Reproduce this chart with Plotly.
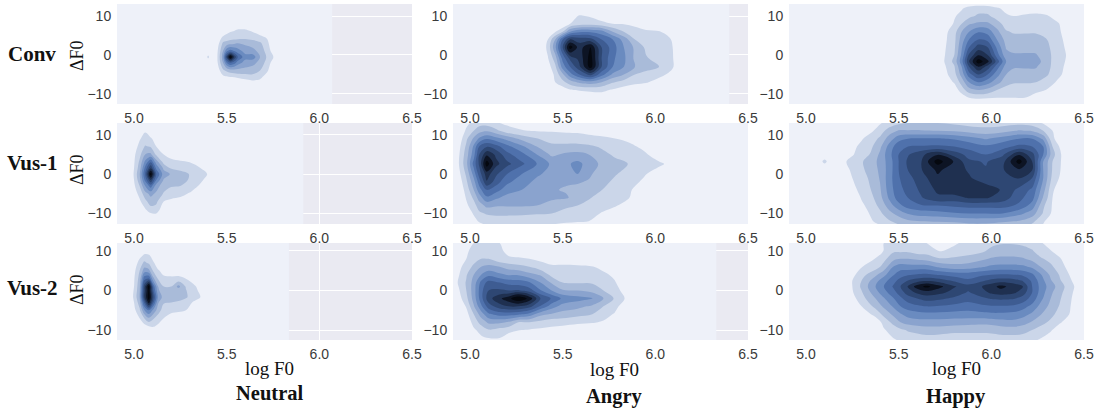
import plotly.graph_objects as go

# ---- axis tick labels and texts ----
x_ticks = [5.0, 5.5, 6.0, 6.5]
y_ticks = [-10, 0, 10]
row_names = ["Conv", "Vus-1", "Vus-2"]
col_names = ["Neutral", "Angry", "Happy"]
band_colors = ["#EEF1F9", "#CBD6E9", "#A9BBD9", "#8AA3CE", "#6A8BC0", "#4F71AC",
               "#3E5C92", "#2E4773", "#1F3050", "#0D1424", "#05080F"]

# ---- density grids (values are contour-band numbers) ----
conv_neutral_x = [4.9, 5.38, 5.40, 5.42, 5.45, 5.48, 5.50, 5.52, 5.54, 5.56, 5.60, 5.64, 5.68, 5.72, 5.76, 6.07]
conv_neutral_y = [-12.6, -8, -6.5, -5.5, -4, -2, -0.5, 1, 3, 4.5, 6.5, 8, 13.1]
conv_neutral_z = [
    [0]*16,
    [0]*16,
    [0, 0, 0, 0, 0, 0, 0, 0, 0, 0.3, 0.8, 1.05, 0.9, 0.2, 0, 0],
    [0, 0, 0, 0, 0, 0.8, 1.0, 1.2, 1.3, 1.5, 1.6, 1.7, 1.3, 0.6, 0, 0],
    [0, 0, 0, 0, 0.4, 1.8, 2.2, 2.5, 2.6, 2.6, 2.6, 2.5, 2.0, 1.1, 0, 0],
    [0, 0, 0, 0, 0.9, 3.0, 5.0, 6.0, 5.5, 4.5, 3.6, 3.3, 2.7, 1.5, 0.3, 0],
    [0, 0, 1.3, 0, 1.0, 3.5, 7.5, 10.6, 8.0, 6.0, 4.4, 4.6, 3.0, 1.8, 0.8, 0],
    [0, 0, 0, 0, 0.9, 3.0, 4.8, 5.5, 5.0, 4.5, 3.6, 3.3, 2.7, 1.5, 0.3, 0],
    [0, 0, 0, 0, 0.5, 2.2, 2.4, 2.6, 2.8, 3.0, 2.8, 2.6, 2.2, 1.2, 0, 0],
    [0, 0, 0, 0, 0.3, 1.2, 1.4, 1.5, 1.55, 1.6, 1.7, 1.5, 1.3, 0.9, 0, 0],
    [0, 0, 0, 0, 0, 0, 0.5, 0.8, 0.9, 1.05, 1.05, 0.8, 0.3, 0, 0, 0],
    [0]*16,
    [0]*16,
]

conv_angry_x = [4.9, 5.38, 5.42, 5.46, 5.50, 5.54, 5.59, 5.65, 5.71, 5.77, 5.83, 5.89, 5.95, 6.02, 6.08, 6.14, 6.40]
conv_angry_y = [-12.6, -11, -9, -7, -5, -3, -1, 2, 4, 6, 8, 10, 11.5, 13.1]
conv_angry_z = [
    [0]*17,
    [0, 0, 0, 0, 0, 0, 0, 0.3, 0.5, 0.2, 0, 0, 0, 0, 0, 0, 0],
    [0, 0, 0, 0, 0.4, 0.9, 1.1, 1.2, 1.2, 0.9, 0.5, 0.2, 0, 0, 0, 0, 0],
    [0, 0, 0, 1.0, 1.7, 2.5, 3.2, 3.5, 3.0, 2.1, 1.6, 1.3, 1.1, 0.6, 0, 0, 0],
    [0, 0, 0, 1.3, 2.8, 4.6, 6.0, 7.4, 5.4, 3.8, 3.0, 2.0, 1.6, 1.3, 0.8, 0, 0],
    [0, 0, 0.5, 1.8, 4.5, 6.0, 7.8, 10.5, 7.0, 5.0, 4.0, 3.0, 2.5, 2.0, 1.3, 0.3, 0],
    [0, 0, 0.9, 2.5, 5.3, 7.2, 8.3, 10.5, 7.0, 5.2, 4.2, 2.8, 2.1, 1.7, 1.3, 0.2, 0],
    [0, 0, 1.3, 3.8, 7.0, 10.5, 8.5, 10.0, 7.0, 5.5, 4.0, 2.8, 1.8, 1.5, 1.2, 0.3, 0],
    [0, 0, 1.0, 3.0, 6.0, 8.0, 7.6, 7.4, 6.0, 5.0, 3.6, 2.0, 1.6, 1.4, 1.1, 0, 0],
    [0, 0, 0, 0.9, 2.0, 4.0, 4.8, 4.8, 4.4, 3.0, 2.0, 1.5, 1.2, 1.1, 0.3, 0, 0],
    [0, 0, 0, 0, 0, 1.0, 1.5, 1.6, 1.4, 1.0, 0.95, 0.7, 0.3, 0, 0, 0, 0],
    [0, 0, 0, 0, 0, 0.5, 1.1, 0.9, 0.3, 0, 0, 0, 0, 0, 0, 0, 0],
    [0, 0, 0, 0, 0, 0, 0.3, 0.2, 0, 0, 0, 0, 0, 0, 0, 0, 0],
    [0]*17,
]

conv_happy_x = [4.9, 5.7, 5.76, 5.80, 5.84, 5.88, 5.93, 5.98, 6.03, 6.08, 6.12, 6.18, 6.24, 6.30, 6.36, 6.42, 6.6]
conv_happy_y = [-12.6, -11, -9, -7, -5, -3, -1.7, 0, 2, 4, 6, 8, 10, 12, 14]
conv_happy_z = [
    [0]*17,
    [0, 0, 0, 0, 0.4, 1.0, 1.2, 1.1, 1.0, 1.0, 1.0, 1.0, 0.5, 0, 0, 0, 0],
    [0, 0, 0, 0.4, 1.5, 2.6, 3.0, 2.7, 2.0, 1.6, 1.5, 1.4, 1.3, 0.95, 0.2, 0, 0],
    [0, 0, 0.5, 1.1, 2.4, 4.0, 5.0, 4.4, 3.4, 2.4, 2.1, 2.1, 2.0, 1.6, 0.8, 0, 0],
    [0, 0, 0.9, 1.6, 3.4, 5.6, 7.0, 6.0, 4.4, 3.0, 2.7, 2.7, 2.6, 2.1, 1.3, 0.4, 0],
    [0, 0, 1.1, 1.9, 4.0, 7.0, 9.0, 7.6, 5.5, 3.5, 3.1, 3.1, 3.1, 2.3, 1.4, 0.6, 0],
    [0, 0, 1.3, 2.3, 4.6, 8.0, 10.6, 9.3, 6.6, 4.0, 3.4, 3.5, 3.6, 2.3, 1.5, 0.7, 0],
    [0, 0, 1.2, 2.0, 4.2, 7.2, 8.9, 8.0, 5.5, 3.3, 3.1, 3.1, 3.1, 2.3, 1.5, 0.8, 0],
    [0, 0, 1.1, 1.8, 3.9, 6.0, 7.5, 7.0, 4.8, 2.9, 2.7, 2.7, 2.6, 2.2, 1.4, 0.7, 0],
    [0, 0, 1.0, 1.7, 3.5, 5.0, 6.0, 5.7, 4.0, 2.6, 2.3, 2.3, 2.3, 2.0, 1.3, 0.6, 0],
    [0, 0, 0.9, 1.6, 3.0, 4.0, 4.9, 4.6, 3.3, 2.1, 1.9, 1.9, 1.9, 1.6, 1.2, 0.4, 0],
    [0, 0, 0.5, 1.1, 2.0, 2.9, 3.2, 3.2, 2.5, 1.5, 1.3, 1.4, 1.4, 1.3, 1.1, 0.2, 0],
    [0, 0, 0, 0.9, 1.3, 1.7, 2.2, 2.2, 1.5, 1.1, 1.0, 1.1, 1.2, 1.1, 0.5, 0, 0],
    [0, 0, 0, 0, 0.9, 1.3, 1.5, 1.4, 1.1, 0.8, 0.6, 0.6, 0.6, 0.4, 0, 0, 0],
    [0]*17,
]

vus1_neutral_x = [4.9, 4.97, 5.0, 5.03, 5.06, 5.09, 5.12, 5.16, 5.2, 5.25, 5.3, 5.36, 5.42, 5.915]
vus1_neutral_y = [-12.7, -11, -9, -7, -5, -3, -1.5, 0, 1.5, 3, 5, 7, 9, 11, 13]
vus1_neutral_z = [
    [0]*14,
    [0, 0, 0, 0, 0, 0.3, 0.4, 0, 0, 0, 0, 0, 0, 0],
    [0, 0, 0, 0.2, 0.9, 1.6, 1.6, 0.3, 0, 0, 0, 0, 0, 0],
    [0, 0, 0, 0.8, 1.7, 2.5, 2.2, 1.0, 0.8, 0.6, 0.2, 0, 0, 0],
    [0, 0, 0.5, 1.3, 2.6, 3.3, 2.8, 1.9, 1.4, 1.3, 0.9, 0.1, 0, 0],
    [0, 0, 0.8, 2.0, 4.0, 5.5, 3.5, 2.4, 2.1, 2.0, 1.6, 0.8, 0, 0],
    [0, 0, 1.0, 2.6, 5.3, 8.0, 5.0, 2.9, 2.2, 2.2, 1.95, 1.2, 0.3, 0],
    [0, 0, 1.1, 2.9, 6.0, 10.6, 6.0, 3.5, 2.9, 2.5, 1.95, 1.4, 0.7, 0],
    [0, 0, 1.0, 2.5, 5.3, 8.0, 4.8, 2.8, 1.9, 1.6, 1.4, 1.0, 0.3, 0],
    [0, 0, 0.9, 2.2, 4.3, 6.0, 3.6, 1.7, 1.4, 1.2, 1.0, 0.5, 0, 0],
    [0, 0, 0.8, 1.7, 3.0, 3.2, 1.8, 1.0, 0.5, 0.2, 0, 0, 0, 0],
    [0, 0, 0.5, 1.3, 2.1, 1.9, 1.0, 0.2, 0, 0, 0, 0, 0, 0],
    [0, 0, 0.3, 0.9, 1.4, 1.1, 0.7, 0, 0, 0, 0, 0, 0, 0],
    [0, 0, 0, 0.5, 0.9, 0.5, 0, 0, 0, 0, 0, 0, 0, 0],
    [0]*14,
]

vus1_angry_x = [4.9, 4.94, 4.98, 5.02, 5.05, 5.09, 5.14, 5.2, 5.28, 5.36, 5.44, 5.52, 5.58, 5.64, 5.7, 5.78, 5.86, 5.94, 6.02, 6.1, 6.6]
vus1_angry_y = [-14, -12, -10, -8, -6, -4, -2, 0, 2.6, 5, 7, 9, 11, 13, 15]
vus1_angry_z = [
    [0, 0, 0, 0, 0.3, 0.6, 0.8, 0.8, 0.8, 0.7, 0.7, 0.6, 0.5, 0.3, 0, 0, 0, 0, 0, 0, 0],
    [0, 0, 0, 0.7, 1.1, 1.4, 1.5, 1.5, 1.4, 1.3, 1.2, 1.1, 1.05, 1.0, 0.9, 0.2, 0, 0, 0, 0, 0],
    [0, 0, 0.4, 1.1, 1.8, 2.1, 2.2, 2.2, 2.2, 2.1, 2.0, 1.6, 1.4, 1.2, 1.0, 0.6, 0.1, 0, 0, 0, 0],
    [0, 0, 0.8, 1.6, 2.5, 3.3, 3.1, 3.1, 3.1, 3.0, 2.6, 2.2, 2.0, 1.7, 1.4, 1.1, 0.6, 0, 0, 0, 0],
    [0, 0, 1.1, 2.2, 3.5, 4.8, 4.2, 3.6, 3.3, 3.1, 3.2, 3.1, 2.6, 2.1, 1.7, 1.3, 1.0, 0.3, 0, 0, 0],
    [0, 0.2, 1.4, 3.0, 4.6, 6.0, 5.4, 4.5, 4.0, 3.4, 3.1, 2.9, 2.7, 2.5, 2.1, 1.5, 1.1, 0.5, 0, 0, 0],
    [0, 0.4, 1.8, 3.6, 5.5, 7.9, 6.5, 5.2, 4.5, 3.7, 3.3, 3.1, 3.1, 2.9, 2.4, 1.8, 1.4, 0.8, 0.2, 0, 0],
    [0, 0.7, 2.2, 4.4, 6.5, 8.5, 7.2, 6.0, 5.0, 4.2, 3.6, 3.6, 4.0, 3.2, 2.6, 2.1, 1.6, 1.1, 0.5, 0, 0],
    [0, 1.0, 2.7, 5.4, 7.2, 10.6, 8.3, 7.3, 6.2, 5.0, 3.8, 3.8, 4.3, 3.6, 2.9, 2.4, 1.95, 1.5, 1.2, 0.6, 0],
    [0, 0.9, 2.5, 4.6, 7.0, 8.8, 7.8, 6.3, 5.3, 4.0, 2.8, 3.2, 3.3, 3.0, 2.5, 1.8, 1.5, 1.2, 0.4, 0, 0],
    [0, 0.7, 2.2, 4.2, 6.1, 6.9, 6.4, 5.3, 4.2, 3.0, 2.2, 2.3, 2.3, 2.2, 1.9, 1.5, 1.3, 0.7, 0.2, 0, 0],
    [0, 0.4, 1.8, 3.2, 4.2, 4.9, 4.4, 3.7, 2.7, 2.05, 1.7, 1.5, 1.5, 1.3, 1.2, 1.02, 0.7, 0.1, 0, 0, 0],
    [0, 0, 1.2, 2.0, 2.6, 2.9, 2.3, 1.4, 1.05, 0.95, 0.9, 0.85, 0.8, 0.7, 0.6, 0.3, 0, 0, 0, 0, 0],
    [0, 0, 0.7, 1.3, 1.6, 1.5, 1.1, 0.8, 0.7, 0.6, 0.5, 0.4, 0.3, 0.2, 0, 0, 0, 0, 0, 0, 0],
    [0, 0, 0, 0.5, 0.7, 0.7, 0.3, 0, 0, 0, 0, 0, 0, 0, 0, 0, 0, 0, 0, 0, 0],
]

vus1_happy_x = [4.9, 5.05, 5.1, 5.15, 5.2, 5.25, 5.3, 5.35, 5.4, 5.45, 5.5, 5.55, 5.62, 5.71, 5.8, 5.88, 5.97, 6.06, 6.15, 6.22, 6.28, 6.33, 6.38, 6.6]
vus1_happy_y = [-14, -12, -10, -8, -6, -4, -1, 1, 3.2, 5, 7, 9, 11, 13, 15]
vus1_happy_z = [
    [0, 0, 0, 0, 0, 0, 0, 0.4, 0.7, 1.1, 1.4, 1.6, 1.7, 1.8, 1.8, 2.0, 2.0, 1.8, 1.6, 1.3, 0.8, 0.3, 0, 0],
    [0, 0, 0, 0, 0, 0, 0.3, 0.9, 1.3, 1.9, 2.4, 2.8, 3.0, 3.1, 3.2, 3.4, 3.4, 3.2, 2.9, 2.3, 1.1, 0.5, 0, 0],
    [0, 0, 0, 0, 0, 0, 0.6, 1.1, 1.8, 2.7, 3.4, 4.1, 4.5, 4.6, 4.9, 5.0, 5.0, 5.0, 4.3, 3.5, 1.9, 0.8, 0, 0],
    [0, 0, 0, 0, 0, 0, 0.8, 1.4, 2.3, 3.5, 4.7, 5.5, 5.9, 6.0, 6.2, 6.4, 6.4, 6.4, 5.8, 4.6, 2.2, 0.9, 0, 0],
    [0, 0, 0, 0, 0, 0.2, 1.1, 1.7, 2.7, 4.2, 5.5, 6.0, 6.9, 7.8, 7.7, 8.1, 8.1, 7.6, 6.3, 5.4, 2.9, 1.0, 0.1, 0],
    [0, 0, 0, 0, 0, 0.7, 1.3, 2.0, 2.9, 4.5, 5.7, 6.3, 7.2, 8.2, 8.5, 8.6, 8.5, 7.9, 6.7, 5.8, 3.4, 1.15, 0.3, 0],
    [0, 0, 0, 0, 0.2, 1.0, 1.6, 2.2, 3.1, 4.6, 5.9, 6.7, 7.5, 8.8, 8.3, 8.1, 7.5, 7.3, 8.1, 7.0, 4.0, 1.7, 0.7, 0],
    [0, 0, 0, 0, 0.6, 1.15, 1.8, 2.4, 3.2, 4.5, 6.0, 7.0, 7.9, 9.2, 8.4, 7.9, 7.1, 7.9, 8.8, 8.0, 4.0, 1.9, 0.85, 0],
    [0, 0, 1.3, 0, 0.8, 1.35, 1.9, 2.5, 3.3, 4.5, 6.0, 7.2, 7.9, 10.5, 8.9, 7.2, 6.9, 7.6, 10.5, 8.0, 4.0, 2.0, 0.9, 0],
    [0, 0, 0.2, 0, 0.3, 0.9, 1.5, 2.1, 3.2, 4.7, 6.0, 6.9, 7.7, 8.9, 7.6, 6.6, 6.0, 6.8, 8.9, 7.4, 5.0, 2.4, 0.9, 0],
    [0, 0, 0, 0, 0.1, 0.7, 1.3, 1.8, 2.8, 4.4, 5.7, 6.0, 6.1, 6.2, 6.0, 5.6, 5.2, 5.6, 6.3, 6.0, 5.0, 2.0, 0.6, 0],
    [0, 0, 0, 0, 0, 0.3, 0.9, 1.5, 2.2, 3.5, 4.6, 5.0, 5.1, 5.1, 4.9, 4.5, 3.9, 4.5, 5.0, 5.0, 3.8, 1.2, 0.3, 0],
    [0, 0, 0, 0, 0, 0, 0.4, 0.8, 1.5, 2.5, 3.1, 3.1, 3.1, 3.0, 2.9, 2.6, 2.4, 2.6, 3.1, 2.9, 2.0, 1.0, 0.2, 0],
    [0, 0, 0, 0, 0, 0, 0, 0.2, 0.9, 1.4, 1.8, 2.0, 2.0, 2.0, 1.8, 1.6, 1.5, 1.6, 1.7, 1.5, 0.9, 0.4, 0, 0],
    [0, 0, 0, 0, 0, 0, 0, 0, 0.4, 0.7, 0.9, 0.9, 0.9, 0.9, 0.9, 0.9, 0.9, 0.9, 0.9, 0.7, 0.3, 0, 0, 0],
]

vus2_neutral_x = [4.9, 4.97, 5.0, 5.03, 5.055, 5.08, 5.105, 5.13, 5.16, 5.2, 5.24, 5.28, 5.33, 5.38, 5.836]
vus2_neutral_y = [-12.5, -11, -9, -7, -5, -3, -1.7, 0, 1, 3, 5, 7, 9, 11, 12.2]
vus2_neutral_z = [
    [0]*15,
    [0]*15,
    [0, 0, 0, 0.1, 0.6, 1.0, 1.1, 0.8, 0, 0, 0, 0, 0, 0, 0],
    [0, 0, 0.2, 1.0, 2.0, 2.9, 2.1, 1.5, 1.0, 0.5, 0.3, 0.1, 0, 0, 0],
    [0, 0, 0.7, 1.8, 3.9, 5.0, 3.7, 2.5, 1.5, 1.3, 1.2, 1.0, 0.2, 0, 0],
    [0, 0, 1.0, 2.5, 6.2, 9.5, 6.0, 3.1, 2.1, 2.0, 1.9, 1.6, 0.7, 0, 0],
    [0, 0, 1.2, 3.0, 7.8, 10.6, 7.0, 3.8, 2.6, 2.4, 2.3, 2.1, 1.5, 0.6, 0],
    [0, 0, 1.1, 2.8, 7.6, 10.3, 6.0, 3.2, 2.2, 2.4, 2.5, 2.05, 1.3, 0.2, 0],
    [0, 0, 1.0, 2.7, 7.5, 10.6, 5.5, 3.0, 2.0, 2.0, 3.3, 1.9, 1.1, 0, 0],
    [0, 0, 0.9, 2.4, 5.6, 6.0, 3.2, 1.9, 1.2, 1.2, 1.3, 1.0, 0.3, 0, 0],
    [0, 0, 0.7, 2.0, 3.5, 3.3, 1.8, 1.1, 0.7, 0.5, 0.4, 0, 0, 0, 0],
    [0, 0, 0.3, 1.4, 2.2, 1.8, 1.1, 0.4, 0, 0, 0, 0, 0, 0, 0],
    [0, 0, 0, 0.6, 1.1, 1.05, 0.4, 0, 0, 0, 0, 0, 0, 0, 0],
    [0]*15,
    [0]*15,
]

vus2_angry_x = [4.9, 4.94, 4.98, 5.02, 5.06, 5.1, 5.16, 5.21, 5.26, 5.32, 5.38, 5.44, 5.5, 5.58, 5.66, 5.72, 5.78, 5.84, 6.33]
vus2_angry_y = [-14, -12, -10, -8, -6, -4, -2, 0, 2, 4, 6, 8, 10, 12, 14]
vus2_angry_z = [
    [0]*19,
    [0, 0, 0, 0.3, 0.8, 1.0, 1.0, 0.5, 0.1, 0, 0, 0, 0, 0, 0, 0, 0, 0, 0],
    [0, 0, 0, 0.8, 1.4, 1.9, 1.6, 1.3, 1.05, 0.9, 0.8, 0.7, 0.5, 0.3, 0.1, 0, 0, 0, 0],
    [0, 0, 0.2, 1.4, 2.4, 3.2, 3.2, 2.9, 2.0, 2.0, 1.7, 1.4, 1.4, 1.2, 1.1, 0.9, 0.2, 0, 0],
    [0, 0, 0.6, 2.0, 3.5, 4.8, 5.4, 5.4, 5.2, 4.6, 3.3, 2.9, 2.6, 2.3, 2.0, 1.4, 0.9, 0, 0],
    [0, 0.2, 1.1, 2.9, 4.8, 6.5, 7.6, 8.0, 8.0, 7.4, 5.9, 4.5, 3.6, 3.3, 2.8, 2.0, 1.4, 0.3, 0],
    [0, 0.6, 1.7, 3.4, 5.6, 7.6, 8.8, 9.7, 11.0, 9.7, 7.0, 5.9, 4.8, 4.4, 4.1, 3.0, 1.9, 0.9, 0],
    [0, 0.9, 2.0, 3.5, 5.7, 7.0, 7.2, 7.0, 7.1, 6.5, 5.1, 4.0, 3.1, 3.0, 2.6, 2.0, 1.4, 0.6, 0],
    [0, 1.2, 2.1, 3.4, 5.3, 6.4, 6.0, 5.6, 5.5, 5.1, 4.0, 2.9, 2.0, 1.9, 1.9, 1.4, 1.1, 0.3, 0],
    [0, 0.95, 1.9, 3.0, 4.0, 4.7, 4.2, 3.9, 3.9, 3.3, 2.9, 1.7, 1.4, 1.4, 1.4, 1.2, 0.8, 0, 0],
    [0, 0.7, 1.5, 2.2, 3.0, 3.3, 3.0, 2.5, 2.3, 2.0, 1.4, 1.1, 1.1, 1.1, 1.05, 0.7, 0, 0, 0],
    [0, 0.3, 1.0, 1.6, 2.0, 2.0, 1.2, 1.15, 1.1, 1.0, 0.8, 0.7, 0.7, 0.6, 0.3, 0, 0, 0, 0],
    [0, 0, 0.8, 1.4, 1.7, 1.7, 1.2, 0.7, 0.6, 0.6, 0.5, 0.3, 0, 0, 0, 0, 0, 0, 0],
    [0, 0, 0.4, 1.0, 1.4, 1.4, 1.0, 0.3, 0, 0, 0, 0, 0, 0, 0, 0, 0, 0, 0],
    [0, 0, 0, 0.2, 0.6, 0.7, 0.3, 0, 0, 0, 0, 0, 0, 0, 0, 0, 0, 0, 0],
]

vus2_happy_x = [4.9, 5.2, 5.25, 5.3, 5.375, 5.42, 5.47, 5.51, 5.55, 5.6, 5.65, 5.72, 5.8, 5.875, 5.95, 6.0, 6.05, 6.12, 6.17, 6.22, 6.27, 6.32, 6.37, 6.42, 6.48, 6.6]
vus2_happy_y = [-14, -12, -10, -8, -6, -4, -2, -0.5, 1, 2.5, 4, 6, 8, 10, 12, 14]
vus2_happy_z = [
    [0, 0, 0, 0, 0, 0, 0.4, 0.6, 0.7, 0.8, 0.8, 0.8, 0.7, 0.7, 0.7, 0.8, 0.8, 0.8, 0.7, 0.6, 0.3, 0, 0, 0, 0, 0],
    [0, 0, 0, 0, 0, 0.5, 1.0, 1.3, 1.5, 1.6, 1.7, 1.6, 1.5, 1.5, 1.5, 1.6, 1.7, 1.7, 1.6, 1.4, 1.0, 0.6, 0.1, 0, 0, 0],
    [0, 0, 0, 0, 0, 0.9, 1.4, 1.8, 2.1, 2.3, 2.5, 2.5, 2.3, 2.3, 2.3, 2.3, 2.4, 2.5, 2.4, 2.0, 1.6, 1.1, 0.5, 0.1, 0, 0],
    [0, 0, 0, 0, 0.4, 1.3, 2.3, 3.0, 3.4, 3.6, 3.6, 3.6, 3.5, 3.4, 3.3, 3.4, 3.6, 3.7, 3.4, 2.9, 2.3, 1.8, 1.1, 0.6, 0, 0],
    [0, 0, 0, 0.4, 1.3, 2.3, 3.2, 3.9, 4.4, 4.6, 4.7, 4.7, 4.6, 4.6, 4.7, 4.8, 4.8, 4.7, 4.4, 3.8, 3.0, 2.3, 1.6, 1.0, 0.1, 0],
    [0, 0, 0.1, 1.0, 2.3, 3.2, 4.1, 5.0, 5.5, 5.8, 6.0, 5.9, 5.7, 5.5, 5.8, 5.9, 5.9, 5.8, 5.4, 4.7, 3.6, 2.7, 1.9, 1.1, 0.3, 0],
    [0, 0, 0.6, 1.6, 3.0, 3.9, 4.9, 5.8, 6.5, 7.0, 7.4, 7.2, 6.8, 6.4, 6.8, 7.1, 7.2, 7.1, 6.6, 5.6, 4.2, 3.0, 2.1, 1.2, 0.3, 0],
    [0, 0, 0.9, 1.9, 3.6, 4.6, 5.6, 6.5, 7.5, 8.2, 8.6, 8.3, 7.6, 6.9, 7.6, 8.2, 8.5, 8.2, 7.5, 6.0, 4.5, 3.2, 2.3, 1.3, 0.4, 0],
    [0, 0, 1.0, 2.2, 4.0, 5.0, 6.1, 7.0, 8.1, 9.5, 10.3, 9.3, 8.1, 7.4, 8.0, 8.6, 9.3, 8.6, 8.0, 6.0, 4.6, 3.5, 2.5, 1.5, 0.4, 0],
    [0, 0, 1.0, 2.0, 3.6, 4.6, 5.6, 6.4, 7.0, 7.5, 7.8, 7.5, 6.8, 6.2, 6.8, 7.3, 7.5, 7.4, 6.9, 5.8, 4.4, 3.1, 2.1, 1.2, 0.3, 0],
    [0, 0, 0.7, 1.6, 2.8, 3.7, 4.9, 5.6, 5.9, 6.1, 6.2, 5.9, 5.6, 5.5, 5.8, 6.0, 6.1, 6.0, 5.8, 5.2, 4.0, 2.8, 1.9, 1.0, 0, 0],
    [0, 0, 0.4, 0.95, 1.5, 2.4, 4.0, 4.5, 4.4, 4.4, 4.4, 3.8, 3.4, 3.5, 3.9, 4.2, 4.3, 4.3, 4.2, 3.8, 2.9, 2.2, 1.5, 0.6, 0, 0],
    [0, 0, 0, 0.4, 1.05, 1.7, 2.7, 3.0, 3.0, 2.8, 2.6, 2.1, 2.2, 2.4, 2.8, 3.1, 3.2, 3.2, 3.1, 2.7, 2.1, 1.7, 1.1, 0.3, 0, 0],
    [0, 0, 0, 0, 0.3, 1.05, 1.8, 1.8, 1.8, 1.5, 1.5, 0.95, 1.2, 1.5, 1.8, 2.3, 2.5, 2.5, 2.4, 2.1, 1.4, 1.05, 0.5, 0, 0, 0],
    [0, 0, 0, 0, 0.1, 1.0, 1.2, 1.2, 1.2, 1.2, 1.0, 0.7, 0.9, 1.2, 1.4, 1.7, 1.9, 1.9, 1.8, 1.5, 1.05, 0.6, 0.1, 0, 0, 0],
    [0, 0, 0, 0, 0, 0.5, 0.8, 0.9, 0.9, 0.9, 0.8, 0.6, 0.7, 0.9, 0.9, 0.9, 0.9, 0.9, 0.9, 0.8, 0.6, 0.2, 0, 0, 0, 0],
]

grids = [
    [(conv_neutral_x, conv_neutral_y, conv_neutral_z), (conv_angry_x, conv_angry_y, conv_angry_z), (conv_happy_x, conv_happy_y, conv_happy_z)],
    [(vus1_neutral_x, vus1_neutral_y, vus1_neutral_z), (vus1_angry_x, vus1_angry_y, vus1_angry_z), (vus1_happy_x, vus1_happy_y, vus1_happy_z)],
    [(vus2_neutral_x, vus2_neutral_y, vus2_neutral_z), (vus2_angry_x, vus2_angry_y, vus2_angry_z), (vus2_happy_x, vus2_happy_y, vus2_happy_z)],
]

# ---- layout in pixels ----
W, H = 1099, 412
col_px = [(117, 412), (453, 748), (789, 1084)]
row_px = [(4, 104), (123, 224), (243, 340)]
y_ranges = [(-12.6, 13.1), (-12.7, 13.0), (-12.5, 12.0)]
x_range = (4.908, 6.5)

scale = [[i / 10, c] for i, c in enumerate(band_colors)]
fig = go.Figure()
layout = dict(
    width=W, height=H, autosize=False, margin=dict(l=0, r=0, t=0, b=0, pad=0, autoexpand=False), showlegend=False,
    paper_bgcolor="white", plot_bgcolor="#EAEAF2",
    font=dict(family="Liberation Sans", size=14, color="#3a3a3a"),
)
n = 0
for r, (top, bottom) in enumerate(row_px):
    for c, (left, right) in enumerate(col_px):
        n += 1
        gx, gy, gz = grids[r][c]
        fig.add_trace(go.Contour(
            x=gx, y=gy, z=gz, xaxis=f"x{n}", yaxis=f"y{n}",
            colorscale=scale, showscale=False, hoverinfo="skip",
            autocontour=False, contours=dict(start=1, end=10, size=1, coloring="fill", showlines=False),
            line=dict(width=0, smoothing=1.0),
        ))
        layout[f"xaxis{n}"] = dict(
            domain=[left / W, right / W], range=list(x_range), anchor=f"y{n}",
            tickvals=x_ticks, ticktext=[f"{v:.1f}" for v in x_ticks], ticks="outside", ticklen=1,
            tickcolor="rgba(0,0,0,0)", gridcolor="white", gridwidth=1, showline=False, zeroline=False,
        )
        layout[f"yaxis{n}"] = dict(
            domain=[1 - bottom / H, 1 - top / H], range=list(y_ranges[r]), anchor=f"x{n}",
            tickvals=y_ticks, ticks="outside", ticklen=2,
            tickcolor="rgba(0,0,0,0)", gridcolor="white", gridwidth=1, showline=False, zeroline=False,
        )
fig.update_layout(**layout)

def label(text, px, py, size, bold=False, angle=0):
    fig.add_annotation(
        text=f"<b>{text}</b>" if bold else text, x=px / W, y=1 - py / H,
        xref="paper", yref="paper", xanchor="center", yanchor="middle", showarrow=False,
        textangle=angle, font=dict(family="Liberation Serif", size=size, color="#111111"),
    )

for name, py in zip(row_names, (54, 163, 288)):
    label(name, 32, py, 21, bold=True)
for py in (56, 170, 290):
    label("ΔF0", 77, py, 18, angle=-90)
for name, px, py_a, py_t in zip(col_names, (269, 614, 956), (368, 369, 368), (393, 396, 396)):
    label("log F0", px, py_a, 19)
    label(name, px, py_t, 20.5, bold=True)

fig.write_html("out.html", config={"displayModeBar": False}, post_script="document.body.style.margin='0';")
